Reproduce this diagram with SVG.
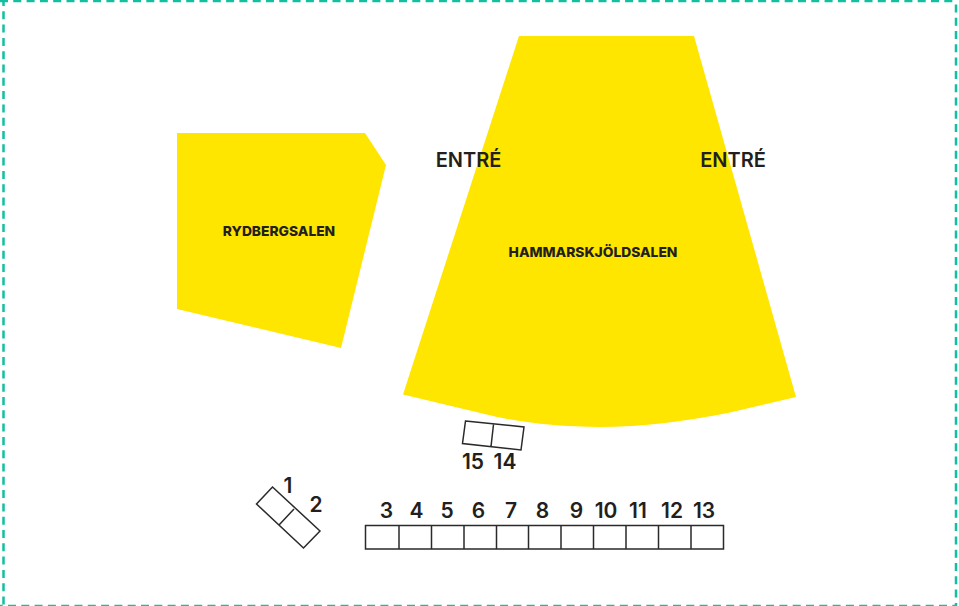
<svg xmlns="http://www.w3.org/2000/svg" width="959" height="606" viewBox="0 0 959 606">
<style>
.room{fill:#ffe600}
.box{fill:none;stroke:#2a2a2a;stroke-width:1.5}
.dash{fill:none;stroke:#10c0a0;stroke-width:2.5;stroke-dasharray:8 5.3}
text{font-family:Inter,"Liberation Sans",sans-serif;fill:#231f20}
.n{font-size:21px;font-weight:600;text-anchor:middle}
.e{font-size:20px;font-weight:600;text-anchor:middle}
.l{font-size:13.8px;font-weight:800;text-anchor:middle}
</style>
<rect width="959" height="606" fill="#fff"/>
<g id="border">
<path class="dash" d="M0 1H956"/>
<path class="dash" d="M3.500 -2V606"/>
<path class="dash" d="M956 -8.900V606"/>
<path class="dash" d="M-5.300 606H956"/>
</g>
<g id="rydbergsalen">
<path class="room" d="M177 133H365L386 165L341 348L177 309Z"/>
<text class="l" x="279" y="235.500">RYDBERGSALEN</text>
</g>
<g id="hammarskjoldsalen">
<path class="room" d="M519 36H694L796 397L730 412.500C690 421 640 427 600 427C560 427 525 423 495 416.500L403 394.500Z"/>
<text class="l" x="593" y="257">HAMMARSKJÖLDSALEN</text>
</g>
<g id="entre-left"><text class="e" x="468.500" y="167">ENTRÉ</text></g>
<g id="entre-right"><text class="e" x="733" y="167">ENTRÉ</text></g>
<g id="tables-15-14">
<path class="box" d="M465.500 421L524 427L521 450L462.500 443.500ZM493.500 424.500L491 446.500"/>
<text class="n" x="473" y="469">15</text><text class="n" x="505" y="469">14</text>
</g>
<g id="tables-1-2">
<path class="box" d="M272.500 487L320 531L303.500 548L256.500 504ZM294 509L279 525"/>
<text class="n" x="288" y="493">1</text><text class="n" x="316" y="512">2</text>
</g>
<g id="tables-3-13">
<path class="box" d="M365.500 525.500H723.500V549H365.500ZM399 525.500V549M431.500 525.500V549M464 525.500V549M496.500 525.500V549M528.500 525.500V549M561 525.500V549M593.500 525.500V549M626 525.500V549M658.500 525.500V549M691 525.500V549"/>
<text class="n" x="386.500" y="518">3</text><text class="n" x="416.500" y="518">4</text><text class="n" x="447" y="518">5</text><text class="n" x="478.500" y="518">6</text><text class="n" x="511" y="518">7</text><text class="n" x="542.500" y="518">8</text><text class="n" x="576.500" y="518">9</text><text class="n" x="606" y="518">10</text><text class="n" x="638" y="518">11</text><text class="n" x="672" y="518">12</text><text class="n" x="704" y="518">13</text>
</g>
</svg>
